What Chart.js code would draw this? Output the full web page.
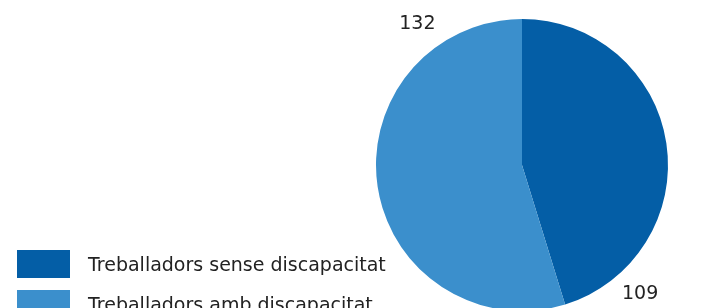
<!DOCTYPE html>
<html>
<head>
<meta charset="utf-8">
<script src="https://cdn.jsdelivr.net/npm/chart.js@4"></script>
<style>
  html, body { margin: 0; padding: 0; background: #fff; overflow: hidden; }
  #wrap { width: 710px; height: 320px; }
</style>
</head>
<body>
<div id="wrap"><canvas id="pieChart" width="710" height="320"></canvas></div>
<script>
// Workers with / without disability
const categories = ['Treballadors sense discapacitat', 'Treballadors amb discapacitat'];
const workers = [109, 132];
const sliceColors = ['#045ea6', '#3b8fcc'];

const fontFamily = '"DejaVu Sans", Verdana, sans-serif';

// Draws the value labels just outside each slice, near its end
const valueLabels = {
    id: 'valueLabels',
    afterDatasetsDraw(chart) {
        const ctx = chart.ctx;
        const meta = chart.getDatasetMeta(0);
        ctx.save();
        ctx.font = '19px ' + fontFamily;
        ctx.fillStyle = '#222';
        ctx.textAlign = 'center';
        ctx.textBaseline = 'middle';
        meta.data.forEach((arc, i) => {
            const a = arc.endAngle - (i === 0 ? 0.44 : 0.64);
            const r = arc.outerRadius * 1.2;
            ctx.fillText(String(workers[i]), arc.x + Math.cos(a) * r, arc.y + Math.sin(a) * r);
        });
        ctx.restore();
    }
};

// Legend in the bottom-left corner
const cornerLegend = {
    id: 'cornerLegend',
    afterDraw(chart) {
        const ctx = chart.ctx;
        ctx.save();
        ctx.font = '19px ' + fontFamily;
        ctx.textBaseline = 'middle';
        chart.data.labels.forEach((label, i) => {
            const y = 250 + i * 40;
            ctx.fillStyle = sliceColors[i];
            ctx.fillRect(17, y, 53, 28);
            ctx.fillStyle = '#222';
            ctx.fillText(label, 88, y + 16);
        });
        ctx.restore();
    }
};

new Chart(document.getElementById('pieChart'), {
    type: 'pie',
    data: {
        labels: categories,
        datasets: [{
            data: workers,
            backgroundColor: sliceColors,
            borderWidth: 0
        }]
    },
    options: {
        responsive: false,
        animation: false,
        layout: { padding: { left: 376, right: 42, top: 19, bottom: 9 } },
        plugins: {
            legend: { display: false },
            tooltip: { enabled: false }
        }
    },
    plugins: [valueLabels, cornerLegend]
});
</script>
</body>
</html>
